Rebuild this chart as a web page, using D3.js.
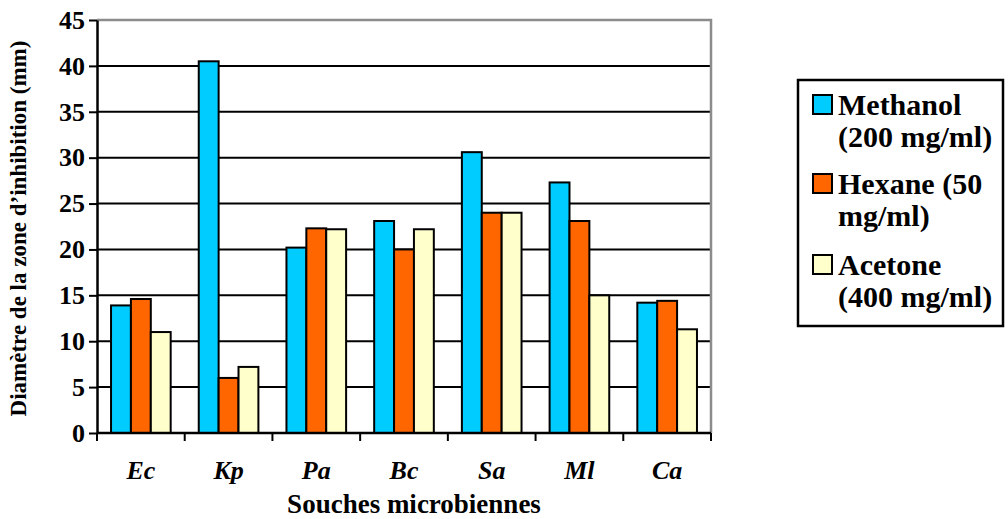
<!DOCTYPE html>
<html>
<head>
<meta charset="utf-8">
<script src="https://cdn.jsdelivr.net/npm/d3@7"></script>
<style>
  body { margin: 0; background: #fff; }
  svg { font-family: "Liberation Serif", "Times New Roman", serif; font-weight: bold; }
</style>
</head>
<body>
<div id="vis"></div>
<script>
// data
const categories = ["Ec", "Kp", "Pa", "Bc", "Sa", "Ml", "Ca"];
const methanol = [13.9, 40.5, 20.2, 23.1, 30.6, 27.3, 14.2];
const hexane   = [14.6, 6.0, 22.3, 20.0, 24.0, 23.1, 14.4];
const acetone  = [11.0, 7.2, 22.2, 22.2, 24.0, 15.0, 11.3];
const seriesNames = ["Methanol", "Hexane", "Acetone"];
const legendLines = [["Methanol", "(200 mg/ml)"], ["Hexane (50", "mg/ml)"], ["Acetone", "(400 mg/ml)"]];
const yTicks = [0, 5, 10, 15, 20, 25, 30, 35, 40, 45];

const COLORS = ["#00CCFF", "#FF6600", "#FFFFCC"];
const FRAME_WIDTH = 1008;
const FRAME_HEIGHT = 519;
const MARGINS = {left: 97, right: 297, top: 20, bottom: 86};
const VIS_WIDTH = FRAME_WIDTH - MARGINS.left - MARGINS.right;
const VIS_HEIGHT = FRAME_HEIGHT - MARGINS.top - MARGINS.bottom;

const values = [methanol, hexane, acetone];

const svg = d3.select("#vis")
  .append("svg")
    .attr("width", FRAME_WIDTH)
    .attr("height", FRAME_HEIGHT);

const g = svg.append("g")
  .attr("transform", "translate(" + MARGINS.left + "," + MARGINS.top + ")");

const PAD = 0.32;
const X0 = d3.scaleBand()
  .domain(categories)
  .range([0, VIS_WIDTH])
  .paddingInner(PAD)
  .paddingOuter(PAD / 2);

const X1 = d3.scaleBand()
  .domain(seriesNames)
  .range([0, X0.bandwidth()]);

const Y = d3.scaleLinear()
  .domain([0, 45])
  .range([VIS_HEIGHT, 0]);

// gridlines
g.selectAll(".grid")
  .data(yTicks.filter(d => d > 0 && d < 45))
  .enter()
  .append("line")
    .attr("x1", 0)
    .attr("x2", VIS_WIDTH)
    .attr("y1", d => Y(d))
    .attr("y2", d => Y(d))
    .attr("stroke", "#000")
    .attr("stroke-width", 2);

// plot area border (top + right, grey)
g.append("path")
  .attr("d", "M0," + Y(45) + "H" + VIS_WIDTH + "V" + Y(0))
  .attr("fill", "none")
  .attr("stroke", "#8c8c8c")
  .attr("stroke-width", 2.5);

// bars
const groups = g.selectAll(".grp")
  .data(categories)
  .enter()
  .append("g")
    .attr("transform", d => "translate(" + X0(d) + ",0)");

groups.selectAll("rect")
  .data((d, i) => seriesNames.map((s, j) => ({s: s, v: values[j][i], c: COLORS[j]})))
  .enter()
  .append("rect")
    .attr("x", d => X1(d.s))
    .attr("width", X1.bandwidth())
    .attr("y", d => Y(d.v))
    .attr("height", d => Y(0) - Y(d.v))
    .attr("fill", d => d.c)
    .attr("stroke", "#000")
    .attr("stroke-width", 2);

// y axis
const yAxis = g.append("g")
  .call(d3.axisLeft(Y).tickValues(yTicks).tickSize(8).tickPadding(4).tickSizeOuter(0));
yAxis.select(".domain").attr("stroke-width", 2.5);
yAxis.selectAll(".tick line").attr("stroke-width", 2);
yAxis.selectAll("text")
  .attr("font-size", "26px")
  .attr("font-family", "Liberation Serif")
  .attr("font-weight", "bold")
  .attr("fill", "#000");

// x axis with ticks between categories
const bounds = categories.map(c => X0(c) - X0.step() * PAD / 2).concat([VIS_WIDTH]);
g.append("line")
  .attr("x1", 0).attr("x2", VIS_WIDTH)
  .attr("y1", VIS_HEIGHT).attr("y2", VIS_HEIGHT)
  .attr("stroke", "#000").attr("stroke-width", 2.5);
g.selectAll(".xtick")
  .data(bounds)
  .enter()
  .append("line")
    .attr("x1", d => d).attr("x2", d => d)
    .attr("y1", VIS_HEIGHT).attr("y2", VIS_HEIGHT + 8)
    .attr("stroke", "#000").attr("stroke-width", 2);

g.selectAll(".xlab")
  .data(categories)
  .enter()
  .append("text")
    .attr("x", d => X0(d) + X0.bandwidth() / 2)
    .attr("y", VIS_HEIGHT + 46)
    .attr("text-anchor", "middle")
    .attr("font-size", "26px")
    .attr("font-style", "italic")
    .text(d => d);

// axis titles
svg.append("text")
  .attr("x", MARGINS.left + VIS_WIDTH / 2 + 10)
  .attr("y", 513)
  .attr("text-anchor", "middle")
  .attr("font-size", "27px")
  .text("Souches microbiennes");

svg.append("text")
  .attr("transform", "translate(26," + (MARGINS.top + VIS_HEIGHT / 2 + 2) + ") rotate(-90)")
  .attr("text-anchor", "middle")
  .attr("font-size", "23px")
  .text("Diamètre de la zone d’inhibition (mm)");

// legend
const legend = svg.append("g");
legend.append("rect")
  .attr("x", 798).attr("y", 80)
  .attr("width", 205).attr("height", 246)
  .attr("fill", "#fff")
  .attr("stroke", "#000")
  .attr("stroke-width", 2.5);

const LEG_Y = [105, 184, 265];
legendLines.forEach((lines, i) => {
  legend.append("rect")
    .attr("x", 813).attr("y", LEG_Y[i] - 10)
    .attr("width", 19).attr("height", 19)
    .attr("fill", COLORS[i])
    .attr("stroke", "#000")
    .attr("stroke-width", 2);
  lines.forEach((t, k) => {
    legend.append("text")
      .attr("x", 838)
      .attr("y", LEG_Y[i] + k * 32 + 10)
      .attr("font-size", "30px")
      .text(t);
  });
});
</script>
</body>
</html>
